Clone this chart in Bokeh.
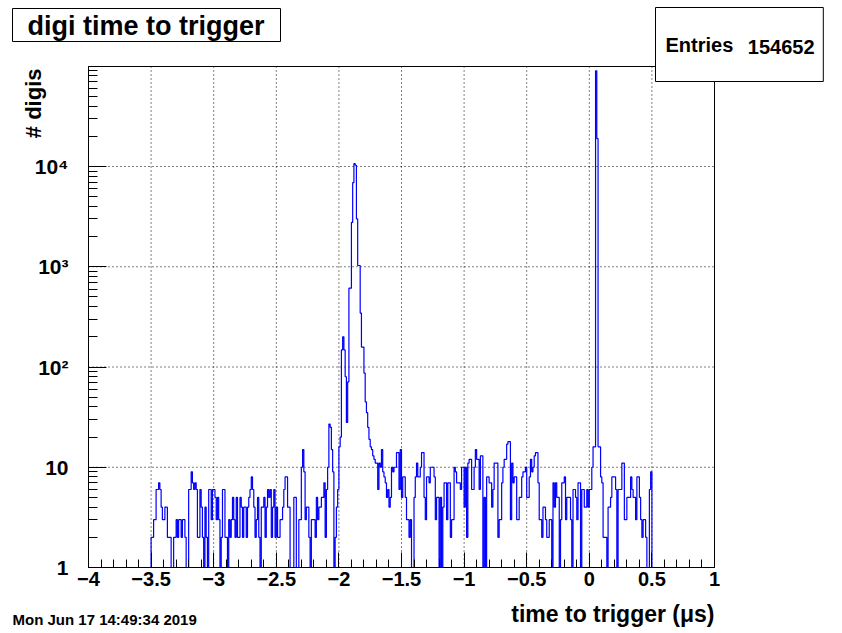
import numpy as np
from bokeh.plotting import figure
from bokeh.models import (FixedTicker, Label, Range1d, BoxAnnotation,
                          CustomJSTickFormatter)
from bokeh.embed import file_html
from bokeh.resources import INLINE

# ---------------- data ----------------
title_text = "digi time to trigger"
x_axis_title = "time to trigger (\u03bcs)"
y_axis_title = "# digis"
date_text = "Mon Jun 17 14:49:34 2019"
entries_label = "Entries"
entries_value = "154652"

x_min, x_max = -4.0, 1.0
bin_width = 0.01
first_bin_left = -3.50

# counts per 0.01 bin, from -3.50 to 0.49 (rows of 25 bins = 0.25 units)
counts = [
    2, 2, 3, 3, 6, 6, 7, 6, 4, 3, 3, 4, 4, 2, 2, 2, 1, 1, 2, 2, 3, 2, 3, 3, 2,
    3, 3, 2, 0, 1, 6, 6, 9, 7, 6, 7, 6, 2, 2, 6, 4, 2, 1, 4, 2, 0, 6, 6, 3, 6,
    6, 5, 3, 5, 3, 1, 2, 6, 6, 2, 2, 1, 3, 2, 3, 5, 3, 2, 5, 2, 2, 5, 4, 2, 4,
    4, 2, 4, 5, 6, 8, 6, 4, 2, 3, 5, 2, 1, 4, 4, 5, 2, 4, 6, 5, 6, 2, 4, 6, 2,
    4, 2, 2, 3, 3, 4, 6, 8, 8, 4, 4, 0, 1, 1, 5, 5, 0, 1, 3, 3, 10, 15, 9, 3, 4,
    4, 2, 0, 3, 3, 3, 2, 5, 3, 4, 4, 5, 5, 7, 2, 6, 10, 27, 25, 15, 9, 0, 2, 4, 6,
    16, 20, 148, 200, 148, 80, 28, 71, 612, 612, 2770, 6900, 10700, 10300, 3000,
    1030, 1030, 345, 158, 158, 87, 45, 35, 25, 19,
    16, 15, 13, 12, 11, 11, 6, 11, 10, 15, 9, 8, 7, 5, 6, 4, 5, 10, 9, 10, 10, 14, 14, 6, 15,
    5, 8, 8, 5, 3, 3, 2, 3, 0, 1, 5, 8, 11, 8, 8, 10, 14, 14, 5, 3, 8, 8, 7, 10, 10,
    10, 8, 3, 5, 5, 0, 5, 0, 4, 7, 7, 3, 7, 7, 2, 3, 3, 10, 9, 7, 7, 7, 6, 10, 10,
    4, 10, 2, 11, 12, 12, 6, 6, 10, 15, 12, 12, 6, 13, 13, 0, 5, 0, 8, 8, 7, 7, 4, 6, 11,
    11, 11, 2, 3, 3, 7, 10, 12, 12, 17, 18, 18, 3, 11, 7, 8, 8, 3, 3, 5, 5, 8, 9, 9, 10,
    5, 5, 8, 12, 9, 10, 13, 14, 14, 7, 3, 3, 2, 4, 4, 3, 2, 2, 3, 3, 0, 7, 4, 7, 5,
    5, 0, 3, 7, 7, 8, 3, 5, 5, 5, 3, 0, 6, 6, 5, 3, 7, 7, 0, 6, 6, 4, 4, 6, 4,
    6, 6, 10, 16, 16, 90000, 19000, 16, 16, 8, 7, 2, 2, 2, 0, 4, 4, 5, 8, 8, 8, 6, 0, 6, 6,
    6, 11, 11, 3, 3, 5, 5, 5, 8, 6, 5, 5, 3, 8, 8, 5, 3, 2, 3, 3, 2, 0, 1, 6, 9,
]

x_ticks = [-4.0, -3.5, -3.0, -2.5, -2.0, -1.5, -1.0, -0.5, 0.0, 0.5, 1.0]
x_tick_labels = ["\u22124", "\u22123.5", "\u22123", "\u22122.5", "\u22122", "\u22121.5",
                 "\u22121", "\u22120.5", "0", "0.5", "1"]
y_ticks = [1, 10, 100, 1000, 10000]
y_tick_labels = ["1", "10", "10\u00b2", "10\u00b3", "10\u2074"]
y_min, y_top = 1.0, 99500.0

# ---------------- layout (page pixels) ----------------
W, H = 842, 633
box_l, box_r, box_t, box_b = 88, 714, 66, 567

px_per_x = (box_r - box_l) / (x_max - x_min)
xr = (x_min - box_l / px_per_x, x_max + (W - box_r) / px_per_x)
lo, hi = np.log10(y_min), np.log10(y_top)
px_per_dec = (box_b - box_t) / (hi - lo)
yr = (10 ** (lo - (H - box_b) / px_per_dec), 10 ** (hi + box_t / px_per_dec))

# ---------------- histogram arrays ----------------
n_bins = int(round((x_max - x_min) / bin_width))
full = np.zeros(n_bins)
off = int(round((first_bin_left - x_min) / bin_width))
full[off:off + len(counts)] = counts
edges = x_min + np.arange(n_bins + 1) * bin_width
ys = np.maximum(np.append(full, full[-1]), y_min)  # empty bins sit on the axis

FONT = "Liberation Sans"

p = figure(width=W, height=H, min_border=0,
           x_range=Range1d(*xr), y_range=Range1d(*yr),
           y_axis_type="log", output_backend="svg", toolbar_location=None,
           background_fill_color="white", border_fill_color="white")
p.title.visible = False
p.outline_line_color = None
p.xgrid.visible = False
p.ygrid.visible = False

# dotted grid limited to the plot box
p.segment(x0=x_ticks, y0=[y_min] * len(x_ticks), x1=x_ticks, y1=[y_top] * len(x_ticks),
          line_color="black", line_dash="1 3", line_width=1)
p.segment(x0=[x_min] * len(y_ticks), y0=y_ticks, x1=[x_max] * len(y_ticks), y1=y_ticks,
          line_color="black", line_dash="1 3", line_width=1)

p.step(edges, ys, mode="after", line_color="#0000ff", line_width=1.2)

# frame box
p.add_layout(BoxAnnotation(left=x_min, right=x_max, bottom=y_min, top=y_top,
                           fill_alpha=0, line_color="black", line_width=1,
                           line_alpha=1))

# axes at the plot box edges
x_minor = [round(v, 2) for v in np.arange(-4.0, 1.0001, 0.1)]
y_minor = [m * 10 ** e for e in range(0, 5) for m in range(2, 10)]
p.xaxis.ticker = FixedTicker(ticks=x_ticks, minor_ticks=x_minor)
p.yaxis.ticker = FixedTicker(ticks=y_ticks, minor_ticks=y_minor)
p.xaxis.formatter = CustomJSTickFormatter(
    args=dict(tv=x_ticks, lb=x_tick_labels),
    code="""let b = 0, d = 1e9;
for (let i = 0; i < tv.length; i++) { const e = Math.abs(tv[i] - tick); if (e < d) { d = e; b = i } }
return lb[b];""")
p.yaxis.formatter = CustomJSTickFormatter(
    args=dict(tv=y_ticks, lb=y_tick_labels),
    code="""let b = 0, d = 1e9;
for (let i = 0; i < tv.length; i++) { const e = Math.abs(Math.log10(tv[i]) - Math.log10(tick)); if (e < d) { d = e; b = i } }
return lb[b];""")
p.xaxis.fixed_location = y_min
p.yaxis.fixed_location = x_min
p.xaxis.bounds = (x_min, x_max)
p.yaxis.bounds = (y_min, y_top)

for ax in (p.xaxis[0], p.yaxis[0]):
    ax.axis_line_color = "black"
    ax.major_tick_line_color = "black"
    ax.minor_tick_line_color = "black"
    ax.major_tick_out = 0
    ax.minor_tick_out = 0
    ax.major_label_text_font = FONT
    ax.major_label_text_font_style = "bold"
    ax.major_label_text_color = "black"

p.xaxis.major_tick_in = 15
p.xaxis.minor_tick_in = 8
p.xaxis.major_label_text_font_size = "20px"
p.xaxis.major_label_standoff = 4
p.yaxis.major_tick_in = 18
p.yaxis.minor_tick_in = 9
p.yaxis.major_label_text_font_size = "21px"
p.yaxis.major_label_standoff = 20

TXT = dict(x_units="screen", y_units="screen", text_font=FONT,
           text_font_style="bold", text_color="black")

# title box
p.add_layout(Label(x=12, y=H - 8, text=title_text, text_font_size="27px",
                   text_align="left", text_baseline="top",
                   background_fill_color="white", border_line_color="black",
                   border_line_width=1,
                   padding=dict(left=15, right=16, top=2, bottom=1), **TXT))

# statistics box
p.add_layout(Label(x=655, y=H - 7, text=entries_label, text_font_size="20px",
                   text_align="left", text_baseline="top",
                   background_fill_color="white", border_line_color="black",
                   border_line_width=1,
                   padding=dict(left=10, right=90, top=26, bottom=26), **TXT))
p.add_layout(Label(x=814, y=H - 46, text=entries_value, text_font_size="20px",
                   text_align="right", text_baseline="middle", **TXT))

# axis titles and date
p.add_layout(Label(x=33, y=H - 68, text=y_axis_title, text_font_size="22px",
                   text_align="right", text_baseline="middle",
                   angle=np.pi / 2, **TXT))
p.add_layout(Label(x=714, y=H - 613, text=x_axis_title, text_font_size="23px",
                   text_align="right", text_baseline="middle", **TXT))
p.add_layout(Label(x=12, y=H - 619, text=date_text, text_font_size="15px",
                   text_align="left", text_baseline="middle", **TXT))

open("out.html", "w").write(file_html(p, INLINE))
